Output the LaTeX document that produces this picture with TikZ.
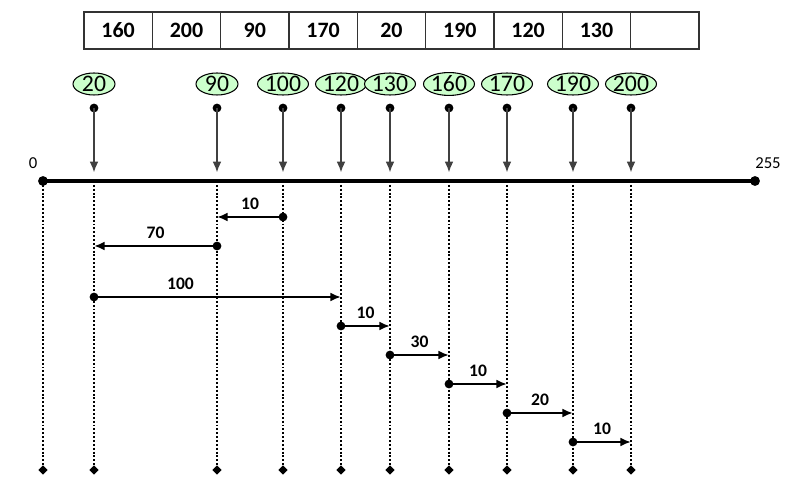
\documentclass[tikz,border=0pt]{standalone}
\usepackage{fontspec}
\setmainfont{Carlito}
\usetikzlibrary{arrows.meta,shapes.geometric}
\definecolor{mint}{HTML}{CCFFCC}

\begin{document}
\begin{tikzpicture}[x=0.02cm, y=-0.02cm,
    cell/.style={draw=black!80, line width=0.8pt, minimum width=1.366cm, minimum height=0.74cm,
      inner sep=0pt, font=\fontsize{12.5}{14}\selectfont\bfseries},
    val/.style={ellipse, draw=black, fill=mint, line width=0.6pt, minimum width=0.84cm,
      minimum height=0.44cm, inner sep=0pt, font=\fontsize{13.5}{15}\selectfont},
    axlbl/.style={font=\fontsize{9.5}{11}\selectfont},
    glbl/.style={above=2.5pt, inner sep=1pt, font=\fontsize{10}{11}\selectfont\bfseries},
    down/.style={black!75, line width=0.75pt, -{Latex[length=6pt,width=5pt]}, shorten >=5pt},
    gap/.style={line width=1.2pt, -{Latex[length=6pt,width=5pt]}},
    drop/.style={line width=1.1pt, dash pattern=on 1.1pt off 1.1pt},
    tipmark/.style={diamond, fill, inner sep=0pt, minimum size=5.5pt}]
  \useasboundingbox (0,0) rectangle (809,493);
  % input array
  \foreach \v [count=\i] in {160,200,90,170,20,190,120,130,{}}
    \node[cell] (c\i) at ({84+68.33*\i-34.17},30.5) {\v};
  % value axis
  \coordinate (a0) at (43,181);
  \coordinate (a255) at (755,181);
  \draw[line width=2.2pt] (a0) -- (a255);
  \fill (a0) circle (2.8pt) (a255) circle (2.8pt);
  \node[axlbl] (lo) at (33,163) {0};
  \node[axlbl] (hi) at (768,163) {255};
  % sorted values dropped onto the axis
  \foreach \v/\x in {20/94,90/217,100/283,120/341,130/390,160/449,170/507,190/573,200/631}
    { \node[val] (v\v) at (\x,84) {\v};
      \coordinate (t\v) at (\x,108);
      \coordinate (a\v) at (\x,181);
      \fill (t\v) circle (2.5pt);
      \draw[down] (t\v) -- (a\v); }
  \foreach \v in {0,20,90,100,120,130,160,170,190,200}
    { \coordinate (b\v) at (a\v |- 0,470);
      \draw[drop] (a\v) -- (b\v);
      \node[tipmark] (m\v) at (b\v) {}; }
  % gaps between neighbours
  \foreach \f/\t/\y/\d/\p in {100/90/217/10/0.5, 90/20/246/70/0.5, 20/120/297/100/0.35,
      120/130/326/10/0.5, 130/160/355/30/0.5, 160/170/384/10/0.5, 170/190/413/20/0.5,
      190/200/442/10/0.5}
    { \coordinate (g\f) at (a\f |- 0,\y);
      \coordinate (h\f) at (a\t |- 0,\y);
      \fill (g\f) circle (2.5pt);
      \draw[gap] (g\f) -- (h\f) node[glbl, pos=\p] {\d}; }
\end{tikzpicture}
\end{document}
